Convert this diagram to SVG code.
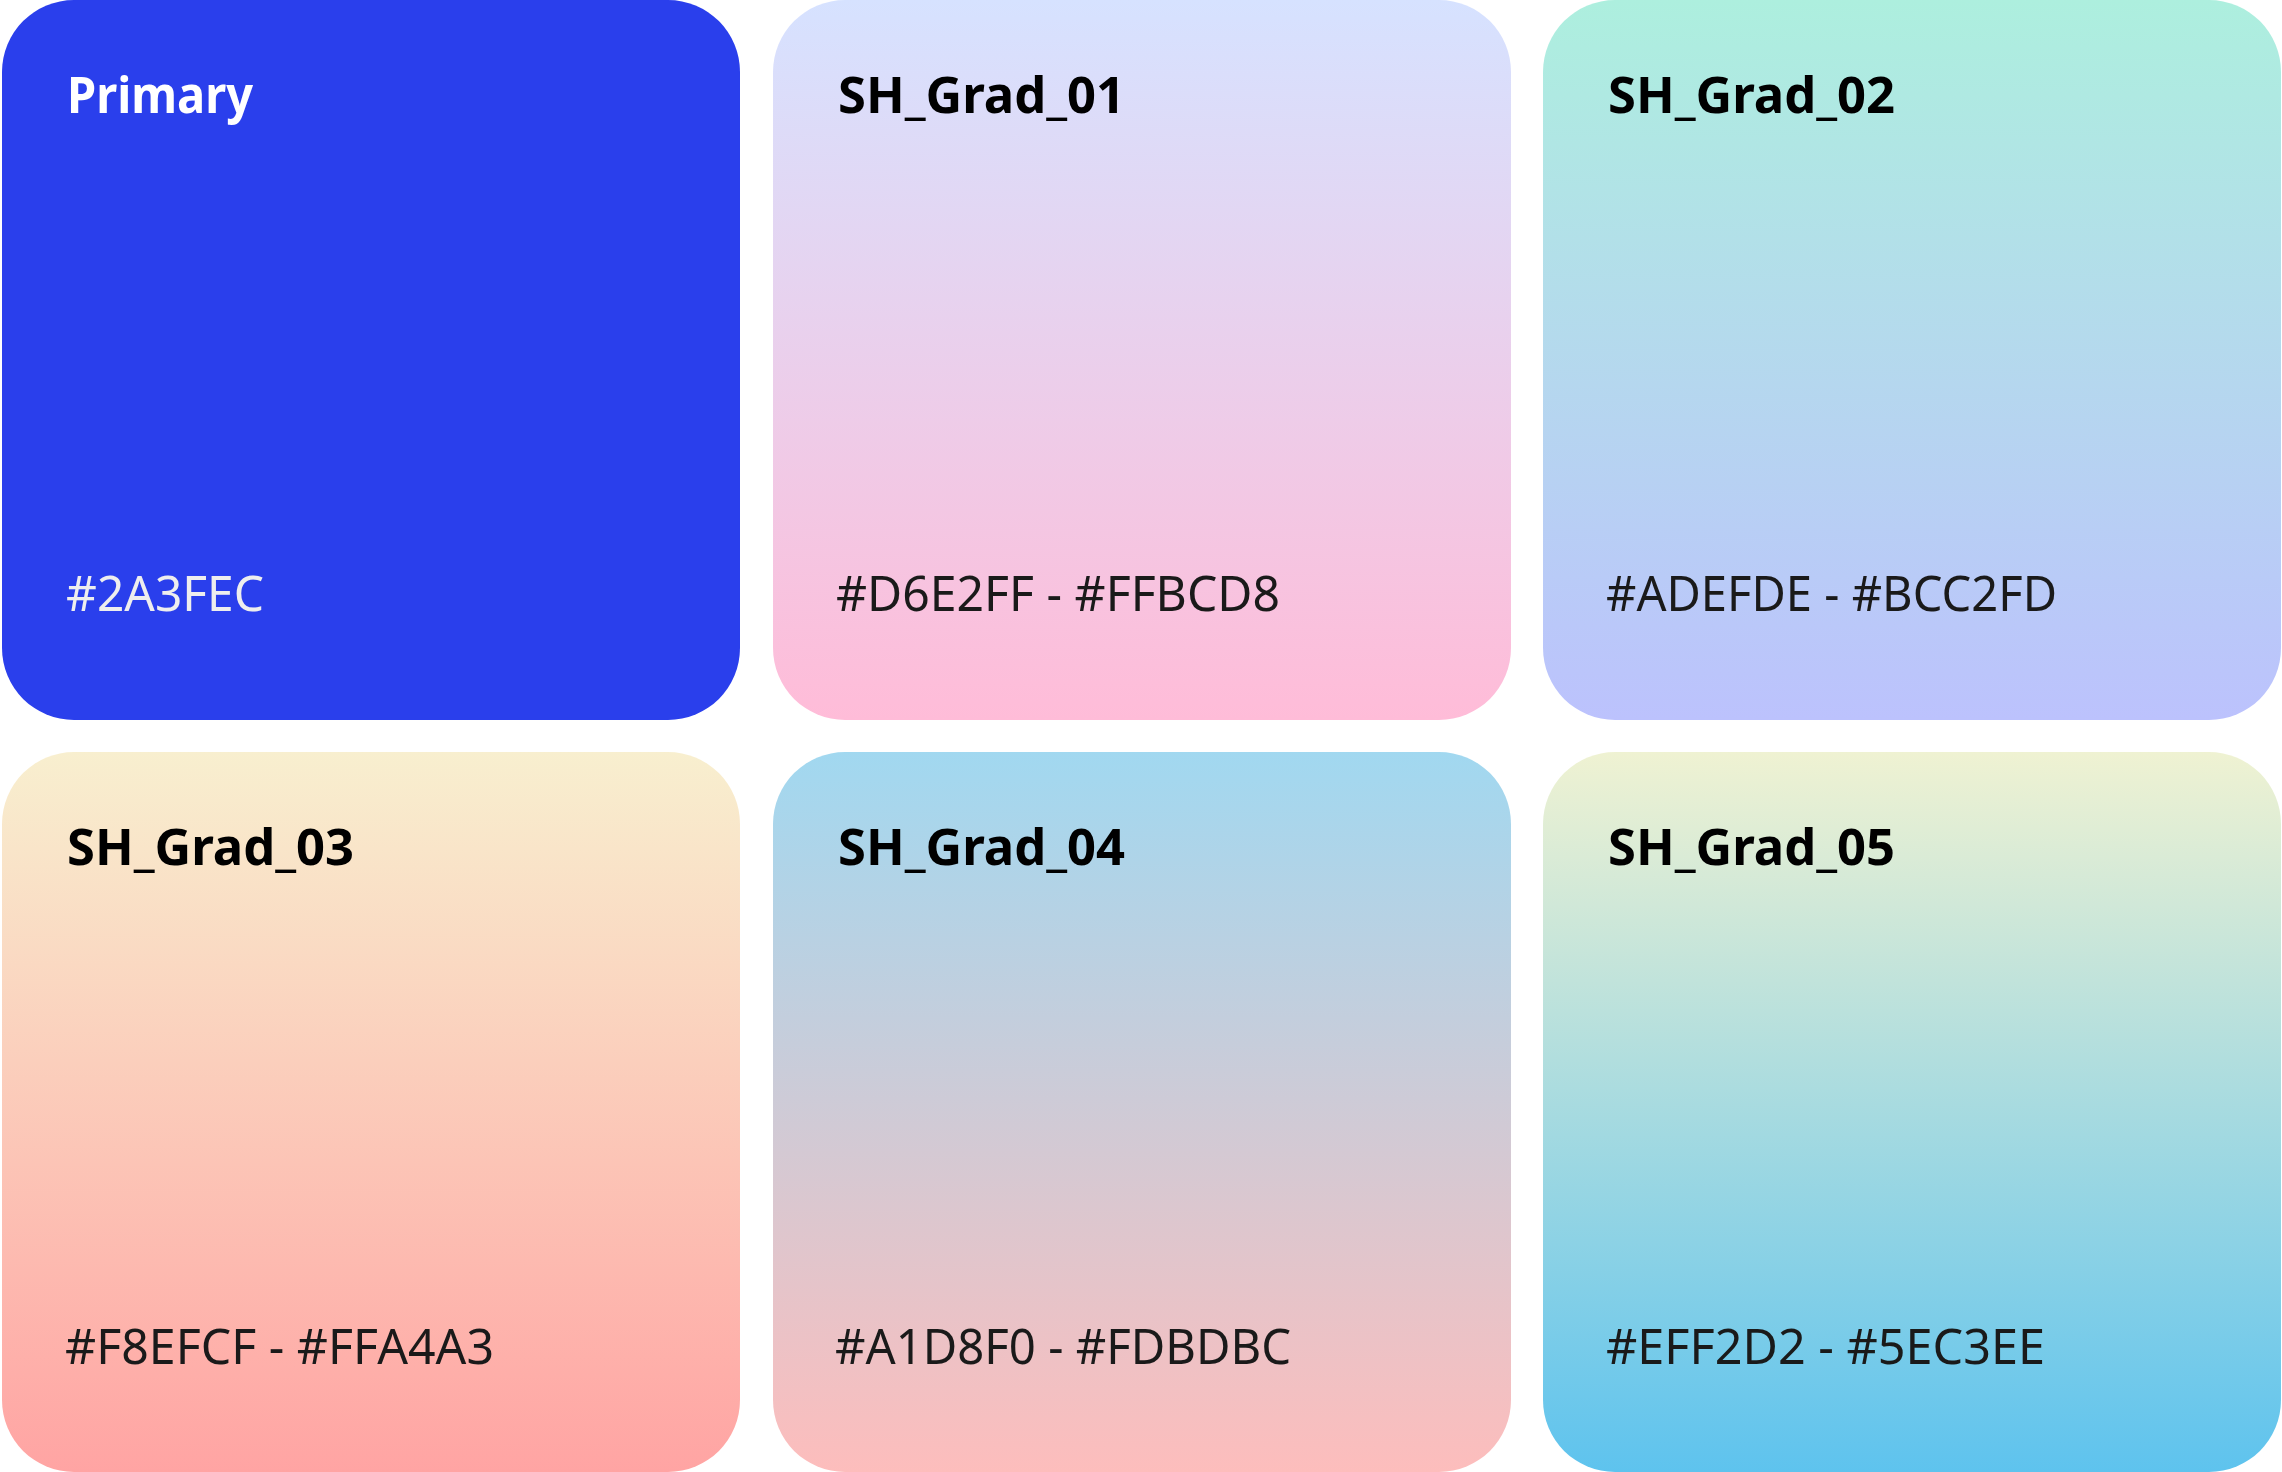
<svg xmlns="http://www.w3.org/2000/svg" width="2282" height="1472" viewBox="0 0 2282 1472">
<style>
.card{rx:72px;ry:72px;}
.title{font-family:"Noto Sans","Open Sans","Liberation Sans",sans-serif;font-weight:700;font-size:50px;fill:#000000;}
.hex{font-family:"Noto Sans","Open Sans","Liberation Sans",sans-serif;font-weight:400;font-size:50px;fill:#1a1a1a;}
.light{fill:#ffffff;}
.lighthex{fill:#eeeeee;}
</style>
<defs>
<linearGradient id="g1" x1="0" y1="0" x2="0" y2="1"><stop offset="0" stop-color="#D6E2FF"/><stop offset="1" stop-color="#FFBCD8"/></linearGradient>
<linearGradient id="g2" x1="0" y1="0" x2="0" y2="1"><stop offset="0" stop-color="#ADEFDE"/><stop offset="1" stop-color="#BCC2FD"/></linearGradient>
<linearGradient id="g3" x1="0" y1="0" x2="0" y2="1"><stop offset="0" stop-color="#F8EFCF"/><stop offset="1" stop-color="#FFA4A3"/></linearGradient>
<linearGradient id="g4" x1="0" y1="0" x2="0" y2="1"><stop offset="0" stop-color="#A1D8F0"/><stop offset="1" stop-color="#FDBDBC"/></linearGradient>
<linearGradient id="g5" x1="0" y1="0" x2="0" y2="1"><stop offset="0" stop-color="#EFF2D2"/><stop offset="1" stop-color="#5EC3EE"/></linearGradient>
</defs>
<rect width="2282" height="1472" fill="#ffffff"/>
<g id="primary">
<rect class="card" x="2" y="0" width="738" height="720" rx="72" fill="#2A3FEC"/>
<text class="title light" x="67" y="113" textLength="186" lengthAdjust="spacingAndGlyphs">Primary</text>
<text class="hex lighthex" x="66" y="611" textLength="198" lengthAdjust="spacingAndGlyphs">#2A3FEC</text>
</g>
<g id="sh_grad_01">
<rect class="card" x="773" y="0" width="738" height="720" rx="72" fill="url(#g1)"/>
<text class="title" x="838" y="113" textLength="287" lengthAdjust="spacingAndGlyphs">SH_Grad_01</text>
<text class="hex" x="836" y="611" textLength="444" lengthAdjust="spacingAndGlyphs">#D6E2FF - #FFBCD8</text>
</g>
<g id="sh_grad_02">
<rect class="card" x="1543" y="0" width="738" height="720" rx="72" fill="url(#g2)"/>
<text class="title" x="1608" y="113" textLength="287" lengthAdjust="spacingAndGlyphs">SH_Grad_02</text>
<text class="hex" x="1606" y="611" textLength="451" lengthAdjust="spacingAndGlyphs">#ADEFDE - #BCC2FD</text>
</g>
<g id="sh_grad_03">
<rect class="card" x="2" y="752" width="738" height="720" rx="72" fill="url(#g3)"/>
<text class="title" x="67" y="865" textLength="287" lengthAdjust="spacingAndGlyphs">SH_Grad_03</text>
<text class="hex" x="65" y="1364" textLength="429" lengthAdjust="spacingAndGlyphs">#F8EFCF - #FFA4A3</text>
</g>
<g id="sh_grad_04">
<rect class="card" x="773" y="752" width="738" height="720" rx="72" fill="url(#g4)"/>
<text class="title" x="838" y="865" textLength="287" lengthAdjust="spacingAndGlyphs">SH_Grad_04</text>
<text class="hex" x="835" y="1364" textLength="456" lengthAdjust="spacingAndGlyphs">#A1D8F0 - #FDBDBC</text>
</g>
<g id="sh_grad_05">
<rect class="card" x="1543" y="752" width="738" height="720" rx="72" fill="url(#g5)"/>
<text class="title" x="1608" y="865" textLength="287" lengthAdjust="spacingAndGlyphs">SH_Grad_05</text>
<text class="hex" x="1606" y="1364" textLength="439" lengthAdjust="spacingAndGlyphs">#EFF2D2 - #5EC3EE</text>
</g>
<g id="connectors"></g>
</svg>
